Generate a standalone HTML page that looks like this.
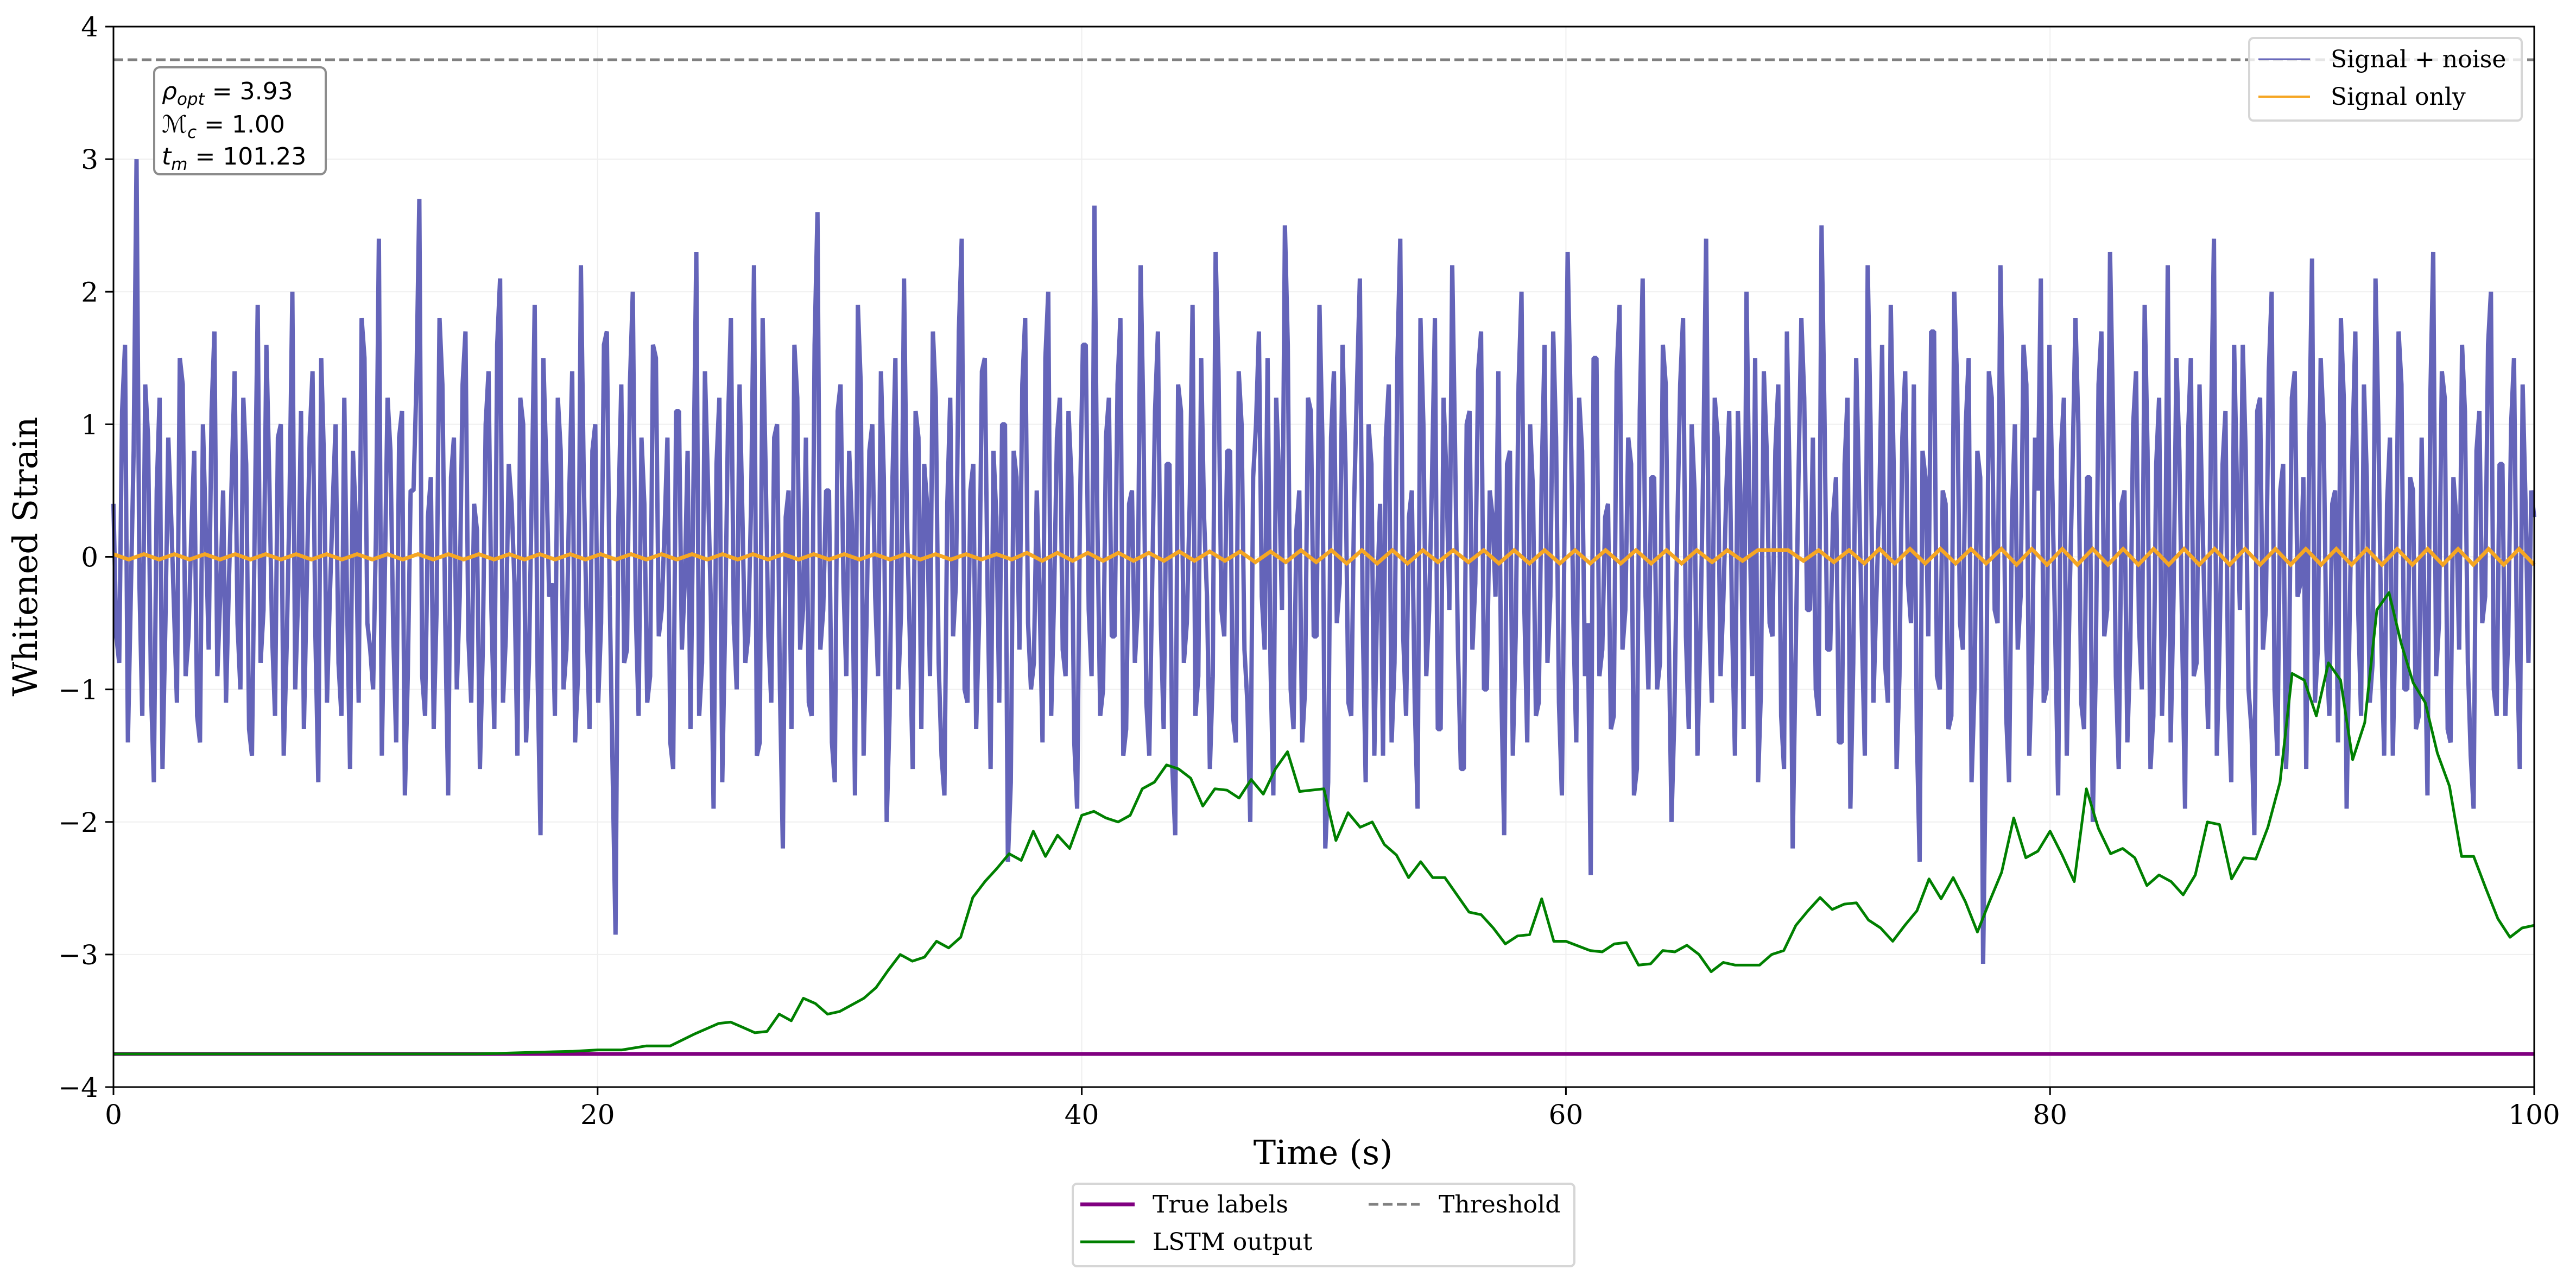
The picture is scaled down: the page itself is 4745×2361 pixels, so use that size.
<!DOCTYPE html>
<html><head><meta charset="utf-8">
<style>
html,body{margin:0;padding:0;background:#fff;}
svg{display:block;}
text{font-family:"DejaVu Serif","Liberation Serif",serif;fill:#000;}
.math{font-family:"DejaVu Sans","Liberation Sans",sans-serif;}
</style></head>
<body>
<svg id="chart" width="4745" height="2361" viewBox="0 0 4745 2361" xmlns="http://www.w3.org/2000/svg">
<g id="grid"></g>
<g id="series"></g>
<g id="axes"></g>
</svg>
<script>
const xTicks=[0,20,40,60,80,100];
const yTicks=[-4,-3,-2,-1,0,1,2,3,4];
const threshold=3.75;
const trueLabel=-3.75;
const noiseValuesA=[0.4,-0.8,1.6,-0.3,3.0,-1.2,0.9,-1.7,1.2,-0.5,0.3,-1.1,1.3,-0.6,0.8,-1.4,0.2,1.1,-0.9,0.5,
-0.2,1.4,-1.0,0.7,-1.5,1.9,-0.4,0.6,-1.2,1.0,-0.7,2.0,-0.3,-1.3,0.9,-0.6,1.5,-1.1,0.4,-0.8,
1.2,-1.6,0.3,1.8,-0.5,-1.0,2.4,-0.2,0.8,-1.4,1.1,-0.9,0.5,2.7,-1.2,0.6,-0.4,1.3,-1.8,0.9,
-0.3,1.7,-1.1,0.2,-0.7,1.4,-1.3,2.1,-0.6,0.4,-1.5,1.0,-0.8,1.9,-2.1,0.7,-0.2,1.2,-1.0,0.5,
-1.4,2.2,-0.5,0.8,-1.1,1.6,-0.3,-2.85,1.3,-0.7,2.0,-1.2,0.4,-0.9,1.5,-0.4,0.9,-1.6,1.1,-0.2,
-1.3,2.3,-0.8,0.6,-1.9,1.2,-0.5,1.8,-1.0,0.3,-0.6,2.2,-1.4,0.7,-1.1,1.0,-2.2,0.5,1.6,-0.7,
0.9,-1.2,2.6,-0.4,0.5,-1.7,1.3,-0.9,0.2,1.9,-1.5,0.8,-0.3,1.4,-2.0,0.6,-1.0,2.1,-0.6,1.1,
-1.3,0.4,1.7,-0.8,-1.8,1.2,-0.2,2.4,-1.1,0.7,-0.5,1.5,-1.6,0.3,1.0,-2.3,0.8,-0.7,1.8,-1.0,
0.5,-1.4,2.0,-0.3,1.2,-0.9,0.6,-1.9,1.6,-0.4,2.65,-1.2,0.9,-0.6,1.3,-1.5,0.4,-0.8,2.2,-1.1,
-0.2,1.7,-1.3,0.7,-2.1,1.1,-0.5,1.9,-0.9,0.3,-1.6,2.3,-0.4,0.8,-1.2,1.4,-0.7,-2.0,1.0,-0.3,
1.5,-1.8,0.6,2.5,-1.0,0.2,-1.4,1.2,-0.6,1.9,-2.2,0.9,-0.5,1.6,-1.1,0.4,2.1,-1.7,0.7,-0.3,
-1.5,1.3,-0.8,2.4,-1.2,0.5,-1.9,1.0,-0.4,1.8,-1.3,0.6,2.2,-0.7,-1.6,1.1,-0.2,1.7,-1.0,0.3,
1.4,-2.1,0.8,-0.6,2.0,-1.4,0.5,-1.1,1.6,-0.3,0.9,-1.8,2.3,-0.5,1.2,-0.9,-2.4,1.5,-0.7,0.4,
-1.2,1.9,-0.4,0.7,-1.6,2.1,-1.0,0.6,-0.8,1.3,-2.0,0.2,1.8,-1.3,0.5,-0.6,2.4,-1.1,0.9,-0.3,
1.1,-1.5,0.4,2.0,-0.9,-1.7,1.4,-0.5,0.8,-1.2,1.7,-2.2,0.6,1.2,-0.4,-1.0,2.5,-0.7,0.3,-1.4,
0.7,-1.9,1.5,-0.6,2.2,-1.1,0.4,-0.8,1.9,-1.6,0.9,-0.2,1.3,-2.3,0.6,1.7,-0.9,0.5,-1.3,2.0,
-0.5,1.0,-1.7,0.8,-3.07,1.4,-0.4,2.2,-1.2,0.3,-0.7,1.6,-1.5,0.9,2.1,-1.0,0.5,-1.8,1.2,-0.3,
1.8,-1.1,0.6,-2.0,1.3,-0.6,2.3,-0.9,0.4,-1.4,1.0,-0.5,1.9,-1.6,0.7,-1.2,2.2,-0.3,0.8,-1.9,
1.5,-0.8,0.3,-1.3,2.4,-0.6,1.1,-1.7,0.5,1.6,-1.0,-2.1,1.2,-0.4,2.0,-1.5,0.7,-0.9,1.4,-0.2,
-1.6,2.25,-0.7,1.0,-1.2,0.5,1.8,-1.9,0.8,-0.4,1.3,-1.1,2.1,-0.6,0.4,-1.5,1.7,-1.0,0.6,-1.3,
0.9,-1.8,2.3,-0.5,1.2,-1.4,0.3,1.6,-0.8,-1.9,1.1,-0.3,2.0,-1.2,0.7,-0.6,1.5,-1.6,0.4,0.5];
const noiseValuesB=[-0.6,1.1,-1.4,0.8,-0.2,1.3,-1.0,0.5,-1.6,0.9,-0.4,1.5,-0.9,0.2,-1.2,1.0,-0.7,1.7,-0.3,-1.1,
0.6,-0.5,1.2,-1.3,0.3,-0.8,1.6,-0.6,0.9,-1.5,0.4,-1.0,1.1,-0.2,1.4,-1.7,0.7,-0.3,1.0,-1.2,
-0.4,0.8,-1.1,1.5,-0.7,0.2,-1.5,1.2,-0.6,0.9,-1.8,0.5,1.3,-0.9,0.3,-1.3,1.8,-0.5,0.6,-1.0,
1.3,-0.6,0.4,-1.6,1.0,-0.4,1.6,-1.1,0.7,-0.2,1.2,-1.4,0.5,-0.9,1.5,-0.3,-1.2,0.8,-0.7,1.4,
-0.9,0.6,-1.3,1.0,-0.5,1.7,-1.6,0.3,-0.8,1.3,-0.4,0.9,-1.1,1.6,-0.6,0.2,-1.4,1.1,-0.7,0.8,
0.5,-1.2,1.4,-0.3,0.7,-1.7,1.0,-0.5,1.3,-0.8,0.4,-1.5,1.8,-0.6,0.9,-1.0,0.3,-1.3,1.2,-0.4,
-1.1,1.6,-0.7,0.5,-1.4,1.1,-0.2,0.8,-1.8,1.3,-0.5,1.0,-0.9,0.6,-1.2,1.5,-0.4,0.3,-1.6,0.9,
0.7,-0.9,1.2,-1.5,0.4,-0.6,1.7,-1.0,0.5,-1.3,1.4,-0.3,0.8,-1.1,1.0,-1.7,0.6,1.3,-0.5,-0.8,
-0.3,1.5,-1.2,0.9,-0.7,1.1,-1.4,0.4,1.6,-0.9,0.3,-1.0,1.2,-0.6,1.8,-1.3,0.5,-0.4,1.0,-1.5,
1.1,-0.5,0.7,-1.6,1.3,-0.8,0.4,-1.2,1.5,-0.3,-0.9,1.4,-0.6,0.8,-1.4,1.0,-1.1,0.6,1.7,-0.7,
-0.8,1.2,-0.4,1.6,-1.3,0.5,-1.0,1.1,-0.6,0.9,-1.7,1.4,-0.2,0.7,-1.2,1.3,-0.5,1.0,-1.5,0.4,
0.9,-1.4,1.5,-0.6,0.3,-1.1,1.8,-0.9,0.6,-1.3,1.2,-0.4,0.8,-1.6,1.0,-0.7,1.4,-1.0,0.5,-0.3,
-1.0,0.7,-1.5,1.3,-0.4,1.0,-1.2,0.6,-0.8,1.7,-1.1,0.4,1.2,-1.4,0.8,-0.5,1.5,-0.9,0.3,-1.3,
1.4,-0.7,0.9,-1.8,1.1,-0.3,0.6,-1.0,1.6,-0.5,-1.2,1.3,-0.6,1.0,-1.5,0.7,-0.4,1.2,-0.9,0.5,
-0.5,1.1,-1.3,0.4,1.5,-1.0,0.8,-0.6,1.3,-1.6,0.5,-0.8,1.8,-0.4,0.9,-1.2,1.1,-0.7,0.6,-1.4,
1.2,-0.8,0.5,-1.5,1.0,-0.3,1.6,-1.1,0.7,-0.9,1.4,-0.5,-1.3,0.8,-0.6,1.7,-1.0,0.4,-1.2,1.3,
-0.7,1.5,-1.0,0.6,-1.4,1.2,-0.5,0.9,-1.7,1.0,-0.3,1.3,-0.8,0.5,-1.1,1.6,-0.6,0.8,-1.5,0.7,
1.0,-1.3,0.6,-0.9,1.7,-0.4,1.1,-1.6,0.5,-0.7,1.4,-1.0,0.8,-1.2,1.2,-0.5,-1.4,1.5,-0.6,0.9,
-0.9,1.3,-0.6,1.0,-1.5,0.7,-1.1,1.6,-0.4,0.8,-1.3,1.1,-0.7,1.4,-1.0,0.5,-1.6,1.2,-0.3,0.6,
0.8,-1.1,1.5,-0.7,0.4,-1.4,1.2,-0.5,1.7,-1.2,0.6,-0.8,1.0,-1.5,0.9,-0.4,1.3,-1.0,0.5,-1.2,
-0.4,1.2,-0.9,1.4,-1.3,0.6,-0.7,1.1,-1.5,0.8,-0.5,1.6,-1.0,0.7,-1.2,1.0,-0.6,1.3,-0.8,0.3];
const signalValues=[0.02,-0.02,0.02,-0.02,0.02,-0.02,0.02,-0.02,0.02,-0.02,0.02,-0.02,0.02,-0.02,0.02,-0.02,0.02,-0.02,0.02,-0.02,
0.02,-0.02,0.02,-0.02,0.02,-0.02,0.02,-0.02,0.02,-0.02,0.02,-0.02,0.02,-0.02,0.02,-0.02,0.02,-0.02,0.02,-0.02,
0.02,-0.02,0.02,-0.02,0.02,-0.02,0.02,-0.02,0.02,-0.02,0.02,-0.02,0.02,-0.02,0.02,-0.02,0.02,-0.02,0.02,-0.02,
0.03,-0.03,0.03,-0.03,0.03,-0.03,0.03,-0.03,0.03,-0.03,0.04,-0.03,0.04,-0.03,0.04,-0.04,0.04,-0.04,0.05,-0.04,
0.05,-0.05,0.05,-0.05,0.05,-0.05,0.05,-0.04,0.05,-0.04,0.05,-0.05,0.05,-0.05,0.05,-0.05,0.05,-0.05,0.05,-0.05,
0.05,-0.05,0.05,-0.05,0.05,-0.04,0.05,-0.03,0.05,0.05,0.05,-0.03,0.05,-0.04,0.05,-0.05,0.06,-0.05,0.06,-0.05,
0.06,-0.05,0.06,-0.05,0.06,-0.06,0.06,-0.06,0.06,-0.06,0.06,-0.06,0.06,-0.06,0.06,-0.06,0.06,-0.06,0.06,-0.06,
0.06,-0.06,0.06,-0.06,0.06,-0.06,0.06,-0.06,0.06,-0.06,0.06,-0.06,0.06,-0.06,0.06,-0.06,0.06,-0.06,0.06,-0.06];
const lstmTimes=[0,15,17,19,20,21,22,23,24,25,25.5,26,26.5,27,27.5,28,28.5,29,29.5,30,31,31.5,32,32.5,33,33.5,34,34.5,35,35.5,36,36.5,37,37.5,38,38.5,39,39.5,40,40.5,41,41.5,42,42.5,43,43.5,44,44.5,45,45.5,46,46.5,47,47.5,48,48.5,49,50,50.5,51,51.5,52,52.5,53,53.5,54,54.5,55,56,56.5,57,57.5,58,58.5,59,59.5,60,61,61.5,62,62.5,63,63.5,64,64.5,65,65.5,66,66.5,67,68,68.5,69,69.5,70,70.5,71,71.5,72,72.5,73,73.5,74,74.5,75,75.5,76,76.5,77,77.5,78,78.5,79,79.5,80,80.5,81,81.5,82,82.5,83,83.5,84,84.5,85,85.5,86,86.5,87,87.5,88,88.5,89,89.5,90,90.5,91,91.5,92,92.5,93,93.5,94,94.5,95,95.5,96,96.5,97,97.5,98,98.5,99,99.5,100];
const lstmValues=[-3.75,-3.75,-3.74,-3.73,-3.72,-3.72,-3.69,-3.69,-3.6,-3.52,-3.51,-3.55,-3.59,-3.58,-3.45,-3.5,-3.33,-3.37,-3.45,-3.43,-3.33,-3.25,-3.12,-3.0,-3.05,-3.02,-2.9,-2.95,-2.87,-2.57,-2.45,-2.35,-2.24,-2.29,-2.07,-2.26,-2.1,-2.2,-1.95,-1.92,-1.97,-2.0,-1.95,-1.75,-1.7,-1.57,-1.6,-1.67,-1.88,-1.75,-1.76,-1.82,-1.68,-1.79,-1.6,-1.47,-1.77,-1.75,-2.14,-1.93,-2.04,-2.0,-2.17,-2.25,-2.42,-2.3,-2.42,-2.42,-2.68,-2.7,-2.8,-2.92,-2.86,-2.85,-2.58,-2.9,-2.9,-2.97,-2.98,-2.92,-2.91,-3.08,-3.07,-2.97,-2.98,-2.93,-3.0,-3.13,-3.06,-3.08,-3.08,-3.0,-2.97,-2.78,-2.67,-2.57,-2.66,-2.62,-2.61,-2.74,-2.8,-2.9,-2.78,-2.67,-2.43,-2.58,-2.42,-2.6,-2.83,-2.6,-2.38,-1.97,-2.27,-2.22,-2.07,-2.25,-2.45,-1.75,-2.05,-2.24,-2.2,-2.27,-2.48,-2.4,-2.45,-2.55,-2.4,-2.0,-2.02,-2.43,-2.27,-2.28,-2.04,-1.7,-0.88,-0.93,-1.2,-0.8,-0.93,-1.53,-1.25,-0.4,-0.27,-0.65,-0.95,-1.1,-1.48,-1.73,-2.26,-2.26,-2.5,-2.73,-2.87,-2.8,-2.78];

const X0=209,X1=4668,Y0=49,Y1=2002;
const xMin=0,xMax=100,yMin=-4,yMax=4;
function sx(v){return X0+(v-xMin)/(xMax-xMin)*(X1-X0);}
function sy(v){return Y1-(v-yMin)/(yMax-yMin)*(Y1-Y0);}
const NS="http://www.w3.org/2000/svg";
function mk(tag,attrs,parent){const e=document.createElementNS(NS,tag);for(const k in attrs)e.setAttribute(k,attrs[k]);parent.appendChild(e);return e;}
const grid=document.getElementById('grid'),series=document.getElementById('series'),axes=document.getElementById('axes');

xTicks.forEach(t=>{const l=mk('line',{x1:sx(t),x2:sx(t),y1:Y0,y2:Y1,stroke:'#efefef','stroke-width':2},grid);

});
yTicks.forEach(t=>{const l=mk('line',{x1:X0,x2:X1,y1:sy(t),y2:sy(t),stroke:'#efefef','stroke-width':2},grid);

});

const noiseValues=[];
for(let i=0;i<noiseValuesA.length;i++){noiseValues.push(noiseValuesA[i]);if(i<noiseValuesB.length)noiseValues.push(noiseValuesB[i]);}
let pts=noiseValues.map((v,i)=>sx(xMin+i*(xMax-xMin)/(noiseValues.length-1)).toFixed(1)+','+sy(v).toFixed(1)).join(' ');
const noise=mk('polyline',{points:pts,fill:'none',stroke:'#6464b9','stroke-width':8,'stroke-linejoin':'bevel'},series);


pts=signalValues.map((v,i)=>sx(xMin+i*(xMax-xMin)/(signalValues.length-1)).toFixed(1)+','+sy(v).toFixed(1)).join(' ');
const sig=mk('polyline',{points:pts,fill:'none',stroke:'#f5a623','stroke-width':7},series);


const tl=mk('line',{x1:sx(xMin),x2:sx(xMax),y1:sy(trueLabel),y2:sy(trueLabel),stroke:'#800080','stroke-width':7},series);


pts=lstmTimes.map((t,i)=>sx(t).toFixed(1)+','+sy(lstmValues[i]).toFixed(1)).join(' ');
const ls=mk('polyline',{points:pts,fill:'none',stroke:'#008000','stroke-width':5,'stroke-linejoin':'round'},series);


const th=mk('line',{x1:X0,x2:X1,y1:sy(threshold),y2:sy(threshold),stroke:'#808080','stroke-width':5,'stroke-dasharray':'18 8'},series);



const fr=mk('rect',{x:X0,y:Y0,width:X1-X0,height:Y1-Y0,fill:'none',stroke:'#000','stroke-width':3},axes);


xTicks.forEach(t=>{
 const l=mk('line',{x1:sx(t),x2:sx(t),y1:Y1,y2:Y1+15,stroke:'#000','stroke-width':3},axes);
 
 
 const tx=mk('text',{x:sx(t),y:Y1+68,'text-anchor':'middle','font-size':50},axes);
 tx.textContent=t;
 
 
});
yTicks.forEach(t=>{
 const l=mk('line',{x1:X0-15,x2:X0,y1:sy(t),y2:sy(t),stroke:'#000','stroke-width':3},axes);
 
 
 const tx=mk('text',{x:X0-28,y:sy(t)+18,'text-anchor':'end','font-size':50},axes);
 tx.textContent=t<0?'\u2212'+Math.abs(t):t;
 
 
});
</script>
<svg width="4745" height="2361" style="position:absolute;left:0;top:0" xmlns="http://www.w3.org/2000/svg">
<text x="2437" y="2144" text-anchor="middle" font-size="62">Time (s)</text>
<text transform="translate(68,1025) rotate(-90)" text-anchor="middle" font-size="62">Whitened Strain</text>
<g>
<rect x="284" y="124" width="316" height="197" rx="10" fill="#fff" stroke="#8c8c8c" stroke-width="4"/>
<text class="math" x="298" y="183" font-size="44"><tspan font-style="italic">ρ</tspan><tspan font-style="italic" font-size="31" dy="10">opt</tspan><tspan dy="-10"> = 3.93</tspan></text>
<text class="math" x="298" y="244" font-size="44"><tspan font-style="italic">ℳ</tspan><tspan font-style="italic" font-size="31" dy="10">c</tspan><tspan dy="-10"> = 1.00</tspan></text>
<text class="math" x="298" y="303" font-size="44"><tspan font-style="italic">t</tspan><tspan font-style="italic" font-size="31" dy="10">m</tspan><tspan dy="-10"> = 101.23</tspan></text>
</g>
<g>
<rect x="4143" y="70" width="502" height="152" rx="8" fill="#fff" fill-opacity="0.8" stroke="#d6d6d6" stroke-width="4"/>
<line x1="4160" x2="4255" y1="109" y2="109" stroke="#6464b9" stroke-width="3"/>
<text x="4293" y="124" font-size="44">Signal + noise</text>
<line x1="4160" x2="4255" y1="178" y2="178" stroke="#f5a623" stroke-width="4"/>
<text x="4293" y="193" font-size="44">Signal only</text>
</g>
<g>
<rect x="1976" y="2180" width="924" height="152" rx="8" fill="#fff" stroke="#d6d6d6" stroke-width="4"/>
<line x1="1990" x2="2090" y1="2218" y2="2218" stroke="#800080" stroke-width="7"/>
<text x="2123" y="2233" font-size="44">True labels</text>
<line x1="1990" x2="2090" y1="2287" y2="2287" stroke="#008000" stroke-width="5"/>
<text x="2123" y="2302" font-size="44">LSTM output</text>
<line x1="2521" x2="2615" y1="2218" y2="2218" stroke="#808080" stroke-width="5" stroke-dasharray="18 8"/>
<text x="2650" y="2233" font-size="44">Threshold</text>
</g>
</svg>
</body></html>
